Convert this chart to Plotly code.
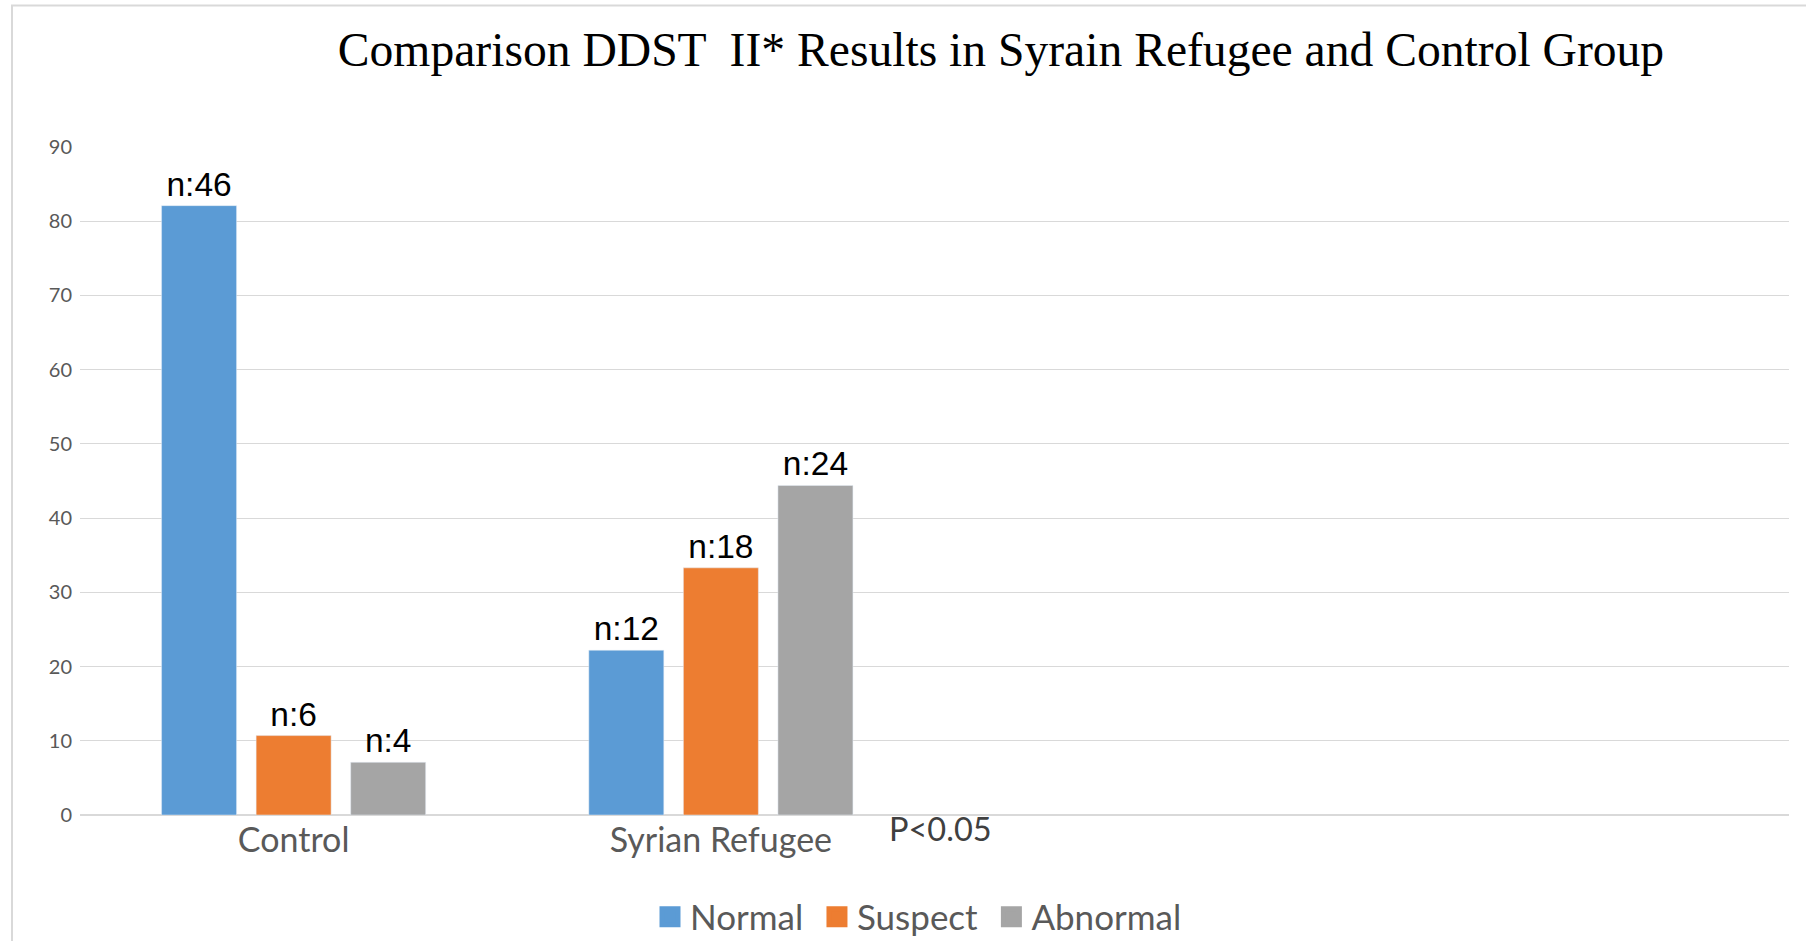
import plotly.graph_objects as go

categories = ["Control", "Syrian Refugee"]
all_slots = ["Control", "Syrian Refugee", "slot3", "slot4"]
series_names = ["Normal", "Suspect", "Abnormal"]
normal_pct = [82.1, 22.2]
suspect_pct = [10.7, 33.3]
abnormal_pct = [7.1, 44.4]
normal_n = ["n:46", "n:12"]
suspect_n = ["n:6", "n:18"]
abnormal_n = ["n:4", "n:24"]
colors = ["#5B9BD5", "#ED7D31", "#A5A5A5"]
y_ticks = [0, 10, 20, 30, 40, 50, 60, 70, 80, 90]

W, H = 1806, 941
L, R, T, B = 80, 17, 147, 126
pw, ph = W - L - R, H - T - B

fig = go.Figure()
for name, vals, labels, col in zip(series_names,
                                   [normal_pct, suspect_pct, abnormal_pct],
                                   [normal_n, suspect_n, abnormal_n], colors):
    fig.add_trace(go.Bar(
        x=categories, y=vals, name=name, marker_color=col,
        text=labels, textposition="outside", cliponaxis=False,
        textfont=dict(family="Liberation Sans, Arial", size=33.5, color="#000000"),
        showlegend=False,
    ))
    fig.add_trace(go.Scatter(
        x=[None], y=[None], mode="markers", name=name + "\u2005",
        marker=dict(symbol="square", size=16, color=col,
                    line=dict(color=col, width=5)),
        showlegend=True,
    ))

fig.update_layout(
    width=W, height=H,
    margin=dict(l=L, r=R, t=T, b=B, pad=0, autoexpand=False),
    paper_bgcolor="white", plot_bgcolor="white",
    barmode="group", bargap=0.336, bargroupgap=0.207,
    title=dict(
        text="Comparison DDST \u00a0II* Results in Syrain Refugee and Control Group",
        font=dict(family="Liberation Serif, Times New Roman", size=47.6, color="#000000"),
        x=1001 / W, xref="container", xanchor="center",
        y=1 - 49 / H, yref="container", yanchor="middle",
    ),
    xaxis=dict(
        type="category", categoryorder="array", categoryarray=all_slots,
        range=[-0.5, 3.5], tickvals=categories, ticktext=categories,
        showgrid=False, showline=False, zeroline=False, ticks="",
        automargin=False, ticklabelstandoff=2,
        tickfont=dict(family="Lato, Calibri", size=34, color="#595959"),
        fixedrange=True,
    ),
    yaxis=dict(
        range=[0, 90], tickvals=y_ticks, showgrid=True, gridcolor="#D9D9D9",
        gridwidth=1, zeroline=True, zerolinecolor="#D9D9D9", zerolinewidth=2,
        showline=False, ticks="", ticklabelstandoff=7, automargin=False,
        tickfont=dict(family="Lato, Calibri", size=20, color="#595959"),
        fixedrange=True,
    ),
    legend=dict(
        orientation="h", xref="container", yref="container",
        x=650 / W, xanchor="left",
        y=1 - 917 / H, yanchor="middle",
        font=dict(family="Lato, Calibri", size=35, color="#595959"),
        bgcolor="rgba(0,0,0,0)", itemsizing="trace",
        tracegroupgap=0,
    ),
    annotations=[dict(
        text="P<0.05", xref="paper", yref="paper",
        x=(887 - L) / pw, xanchor="left",
        y=-(828 - (T + ph)) / ph, yanchor="middle",
        showarrow=False,
        font=dict(family="Lato, Calibri", size=32.5, color="#404040"),
    )],
    shapes=[
        dict(type="line", xref="paper", yref="paper",
             x0=(12 - L) / pw, x1=(12 - L) / pw,
             y0=(T + ph - 5.5) / ph, y1=-(H + 5 - (T + ph)) / ph,
             line=dict(color="#D9D9D9", width=2)),
        dict(type="line", xref="paper", yref="paper",
             x0=(11 - L) / pw, x1=(W + 5 - L) / pw,
             y0=(T + ph - 5.5) / ph, y1=(T + ph - 5.5) / ph,
             line=dict(color="#D9D9D9", width=2)),
    ],
)

fig.write_html("out.html")
